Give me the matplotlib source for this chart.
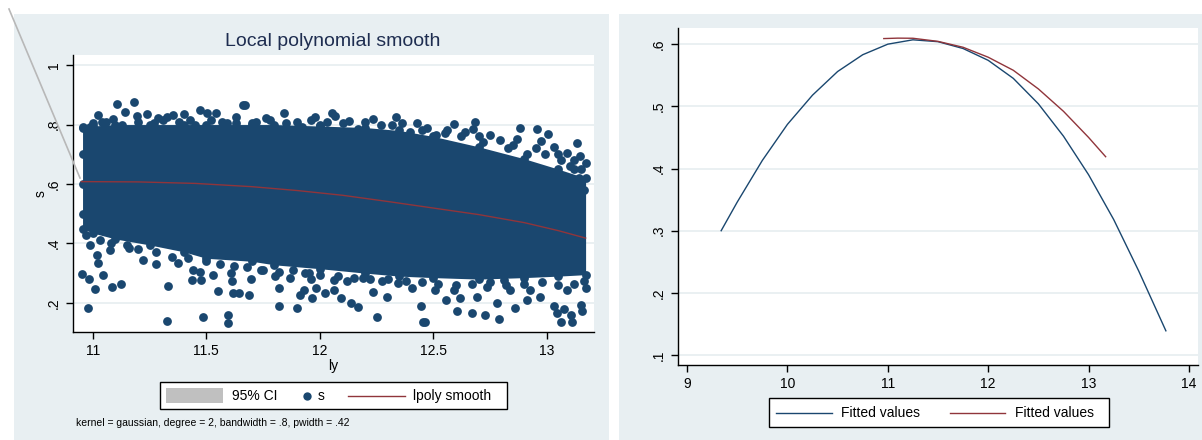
# Stata style lpoly / fitted values comparison
import matplotlib
matplotlib.use('Agg')
import matplotlib.pyplot as plt
from matplotlib.patches import Rectangle
from matplotlib.lines import Line2D

plt.rcParams['font.family'] = ['Liberation Sans', 'DejaVu Sans']

W, H = 1202, 440
navy = '#1a476f'
maroon = '#90353b'
bg = '#e8eff2'
gridc = '#e6eef0'

# --- left panel: scatter of s against ly (dense core + visible fringe points) ---
core_x = [10.955, 11.0, 11.1, 11.25, 11.4, 11.5, 11.7, 11.8, 12.0, 12.2, 12.35, 12.5, 12.7, 12.9, 13.05, 13.17]
core_top = [0.79, 0.795, 0.80, 0.80, 0.80, 0.80, 0.80, 0.80, 0.795, 0.79, 0.78, 0.76, 0.725, 0.685, 0.65, 0.62]
core_bot = [0.45, 0.435, 0.415, 0.395, 0.372, 0.35, 0.34, 0.328, 0.315, 0.30, 0.29, 0.285, 0.28, 0.285, 0.29, 0.295]

upper_x = [11.108, 11.182, 11.025, 11.142, 11.238, 11.194, 11.088, 11.04, 11.355, 11.40, 11.473, 11.502,
           11.543, 11.661, 11.631, 11.289, 11.326, 10.959, 10.988, 11.429, 11.59, 11.671, 11.844, 11.979,
           12.053, 12.067, 12.129, 12.236, 12.335, 12.427, 11.762, 11.70, 12.317, 11.92, 12.001, 12.17,
           12.398, 12.592, 12.684, 12.674, 12.882, 12.956, 13.003, 13.132, 12.868, 12.974, 13.029, 13.088,
           13.144, 13.151, 12.512, 12.75, 12.794, 13.117, 13.161, 12.55, 12.62, 12.83, 12.91, 13.06, 13.1,
           12.45, 12.72, 12.99, 13.14,
           11.0, 11.06, 11.13, 11.2, 11.27, 11.31, 11.38, 11.45, 11.52, 11.57, 11.63, 11.72, 11.78, 11.85,
           11.9, 11.96, 12.03, 12.1, 12.2, 12.27, 12.36, 12.47, 12.56, 12.64, 12.7, 12.85, 12.95, 13.05,
           13.12, 13.17, 10.955, 10.955, 10.955]
upper_y = [0.869, 0.876, 0.832, 0.843, 0.835, 0.829, 0.817, 0.809, 0.832, 0.834, 0.849, 0.838,
           0.838, 0.866, 0.826, 0.821, 0.826, 0.793, 0.793, 0.815, 0.804, 0.866, 0.838, 0.826,
           0.840, 0.829, 0.813, 0.818, 0.826, 0.804, 0.821, 0.804, 0.798, 0.793, 0.798, 0.784,
           0.776, 0.802, 0.809, 0.784, 0.787, 0.784, 0.767, 0.739, 0.750, 0.746, 0.723, 0.703,
           0.694, 0.649, 0.765, 0.765, 0.748, 0.649, 0.58, 0.77, 0.76, 0.72, 0.70, 0.68, 0.66,
           0.78, 0.74, 0.70, 0.62,
           0.805, 0.81, 0.80, 0.81, 0.805, 0.815, 0.81, 0.80, 0.815, 0.81, 0.805, 0.81, 0.815, 0.805,
           0.81, 0.815, 0.81, 0.805, 0.81, 0.80, 0.805, 0.79, 0.78, 0.775, 0.76, 0.73, 0.72, 0.70,
           0.68, 0.67, 0.70, 0.60, 0.50]

lower_x = [10.954, 10.984, 11.01, 10.98, 11.044, 11.084, 11.123, 11.025, 11.02, 11.333, 11.326, 11.485,
           11.597, 11.594, 11.439, 11.476, 11.551, 11.609, 11.615, 11.619, 11.646, 11.686, 11.377, 11.279,
           11.22, 11.161, 11.076, 10.988, 11.44, 11.473, 11.531, 11.697, 11.818, 11.818, 11.901, 11.913,
           11.965, 11.928, 11.982, 12.023, 12.06, 12.094, 12.138, 12.166, 12.251, 12.236, 12.295, 12.446,
           12.456, 12.064, 11.962, 11.935, 11.869, 11.803, 11.741, 12.118, 12.192, 12.273, 12.346, 12.405,
           12.464, 12.604, 12.67, 12.729, 12.79, 12.779, 12.859, 13.029, 13.044, 13.076, 13.062, 13.106,
           13.11, 13.151, 13.154, 12.555, 12.618, 12.692, 12.912, 12.97, 13.161, 12.508, 12.589, 12.736,
           12.838, 12.926, 13.088, 12.809,
           10.97, 11.03, 11.08, 11.15, 11.2, 11.28, 11.35, 11.42, 11.5, 11.56, 11.62, 11.68, 11.75,
           11.82, 11.88, 11.95, 12.0, 12.08, 12.15, 12.22, 12.3, 12.38, 12.45, 12.52, 12.6, 12.67,
           12.75, 12.82, 12.9, 12.98, 13.05, 13.12, 13.17]
lower_y = [0.297, 0.281, 0.248, 0.182, 0.293, 0.255, 0.264, 0.333, 0.361, 0.257, 0.140, 0.152,
           0.160, 0.132, 0.277, 0.277, 0.239, 0.302, 0.272, 0.233, 0.233, 0.227, 0.333, 0.331,
           0.345, 0.384, 0.378, 0.395, 0.311, 0.305, 0.294, 0.281, 0.249, 0.190, 0.184, 0.227,
           0.218, 0.244, 0.249, 0.233, 0.244, 0.216, 0.199, 0.186, 0.152, 0.235, 0.219, 0.190,
           0.134, 0.277, 0.280, 0.300, 0.283, 0.291, 0.309, 0.272, 0.283, 0.272, 0.266, 0.249,
           0.134, 0.171, 0.165, 0.160, 0.145, 0.199, 0.182, 0.190, 0.165, 0.179, 0.137, 0.160,
           0.134, 0.193, 0.171, 0.210, 0.216, 0.221, 0.210, 0.221, 0.272, 0.244, 0.244, 0.255,
           0.244, 0.244, 0.244, 0.277,
           0.43, 0.41, 0.40, 0.395, 0.38, 0.37, 0.355, 0.35, 0.34, 0.33, 0.325, 0.32, 0.31,
           0.305, 0.31, 0.30, 0.295, 0.29, 0.285, 0.28, 0.28, 0.275, 0.27, 0.265, 0.26, 0.265,
           0.27, 0.26, 0.265, 0.27, 0.26, 0.265, 0.25]

lpoly_x = [10.95, 11.2, 11.45, 11.7, 11.9, 12.1, 12.3, 12.5, 12.7, 12.9, 13.05, 13.17]
lpoly_y = [0.608, 0.607, 0.602, 0.591, 0.578, 0.562, 0.541, 0.519, 0.497, 0.47, 0.443, 0.418]

# --- right panel: two fitted value curves ---
fit1_x = [9.34, 9.5, 9.75, 10.0, 10.25, 10.5, 10.75, 11.0, 11.25, 11.5, 11.75, 12.0, 12.25,
          12.5, 12.75, 13.0, 13.25, 13.5, 13.77]
fit1_y = [0.300, 0.346, 0.413, 0.471, 0.518, 0.556, 0.583, 0.600, 0.607, 0.604, 0.593, 0.574, 0.545,
          0.504, 0.452, 0.390, 0.318, 0.235, 0.139]
fit2_x = [10.96, 11.1, 11.25, 11.5, 11.75, 12.0, 12.25, 12.5, 12.75, 13.0, 13.17]
fit2_y = [0.609, 0.6097, 0.6095, 0.6045, 0.595, 0.579, 0.558, 0.528, 0.492, 0.450, 0.419]


def fx(x):
    return x / W


def fy(y):
    return 1 - y / H


fig = plt.figure(figsize=(12.02, 4.40), dpi=100)
fig.patch.set_facecolor('white')

# graph region backgrounds
fig.add_artist(Rectangle((fx(14), 0), fx(609) - fx(14), fy(14), transform=fig.transFigure,
                         facecolor=bg, edgecolor='none', zorder=-10))
fig.add_artist(Rectangle((fx(619), 0), 1 - fx(619), fy(14), transform=fig.transFigure,
                         facecolor=bg, edgecolor='none', zorder=-10))


def stata_axes(ax):
    ax.set_facecolor('white')
    for s in ['top', 'right']:
        ax.spines[s].set_visible(False)
    for s in ['left', 'bottom']:
        ax.spines[s].set_color('black')
        ax.spines[s].set_linewidth(1.0)
    ax.tick_params(direction='out', length=5, width=1, labelsize=10, colors='black')
    ax.grid(axis='y', color=gridc, linewidth=1.2)
    ax.set_axisbelow(True)
    for lab in ax.get_yticklabels():
        lab.set_rotation(90)
        lab.set_va('center')


ms = 40

# left axes
ax1 = fig.add_axes([fx(73), fy(332), fx(594) - fx(73), fy(55) - fy(332)])
ax1.fill_between(core_x, core_bot, core_top, color=navy, linewidth=0, zorder=2)
ax1.scatter(core_x + core_x, core_top + core_bot, s=ms, color=navy, linewidths=0, zorder=2)
ax1.scatter(upper_x, upper_y, s=ms, color=navy, linewidths=0, zorder=2)
ax1.scatter(lower_x, lower_y, s=ms, color=navy, linewidths=0, zorder=2)
ax1.plot(lpoly_x, lpoly_y, color=maroon, linewidth=1.0, zorder=3)
ax1.set_xlim(10.913, 13.207)
ax1.set_ylim(0.102, 1.034)
ax1.set_xticks([11, 11.5, 12, 12.5, 13])
ax1.set_xticklabels(['11', '11.5', '12', '12.5', '13'])
ax1.set_yticks([0.2, 0.4, 0.6, 0.8, 1.0])
ax1.set_yticklabels(['.2', '.4', '.6', '.8', '1'])
stata_axes(ax1)
ax1.set_xlabel('ly', fontsize=10, labelpad=1)
ax1.set_ylabel('s', fontsize=10, labelpad=0)

# right axes
ax2 = fig.add_axes([fx(678), fy(365), fx(1198) - fx(678), fy(28) - fy(365)])
ax2.plot(fit1_x, fit1_y, color=navy, linewidth=1.0)
ax2.plot(fit2_x, fit2_y, color=maroon, linewidth=1.0)
ax2.set_xlim(8.91, 14.09)
ax2.set_ylim(0.084, 0.626)
ax2.set_xticks([9, 10, 11, 12, 13, 14])
ax2.set_yticks([0.1, 0.2, 0.3, 0.4, 0.5, 0.6])
ax2.set_yticklabels(['.1', '.2', '.3', '.4', '.5', '.6'])
stata_axes(ax2)

# title
fig.text(fx(333), fy(42), 'Local polynomial smooth', ha='center', va='center',
         fontsize=14, color='#1e2d50')

# stray diagonal line in the top-left corner
fig.add_artist(Line2D([fx(9), fx(80)], [fy(9), fy(178)], transform=fig.transFigure,
                      color='#b8b8b8', linewidth=1.2, zorder=5))

# left legend (drawn by hand to match Stata spacing)
fig.add_artist(Rectangle((fx(160), fy(409)), fx(507) - fx(160), fy(382) - fy(409),
                         transform=fig.transFigure, facecolor='white', edgecolor='black',
                         linewidth=1.0, zorder=5))
fig.add_artist(Rectangle((fx(166), fy(403)), fx(223) - fx(166), fy(388) - fy(403),
                         transform=fig.transFigure, facecolor='#c0c0c0', edgecolor='none', zorder=6))
fig.text(fx(232), fy(396), '95% CI', ha='left', va='center', fontsize=10, zorder=6)
fig.add_artist(Line2D([fx(307)], [fy(396)], transform=fig.transFigure, marker='o',
                      markersize=6, color=navy, markeredgewidth=0, zorder=6))
fig.text(fx(318), fy(396), 's', ha='left', va='center', fontsize=10, zorder=6)
fig.add_artist(Line2D([fx(348), fx(405)], [fy(396), fy(396)], transform=fig.transFigure,
                      color=maroon, linewidth=1.0, zorder=6))
fig.text(fx(413), fy(396), 'lpoly smooth', ha='left', va='center', fontsize=10, zorder=6)
fig.text(fx(76), fy(423), 'kernel = gaussian, degree = 2, bandwidth = .8, pwidth = .42',
         ha='left', va='center', fontsize=7.5)

# right legend
fig.add_artist(Rectangle((fx(769), fy(427)), fx(1109) - fx(769), fy(398) - fy(427),
                         transform=fig.transFigure, facecolor='white', edgecolor='black',
                         linewidth=1.0, zorder=5))
fig.add_artist(Line2D([fx(776), fx(832)], [fy(413), fy(413)], transform=fig.transFigure,
                      color=navy, linewidth=1.0, zorder=6))
fig.text(fx(841), fy(413), 'Fitted values', ha='left', va='center', fontsize=10, zorder=6)
fig.add_artist(Line2D([fx(950), fx(1005)], [fy(413), fy(413)], transform=fig.transFigure,
                      color=maroon, linewidth=1.0, zorder=6))
fig.text(fx(1015), fy(413), 'Fitted values', ha='left', va='center', fontsize=10, zorder=6)

fig.savefig('out.png', dpi=100)
